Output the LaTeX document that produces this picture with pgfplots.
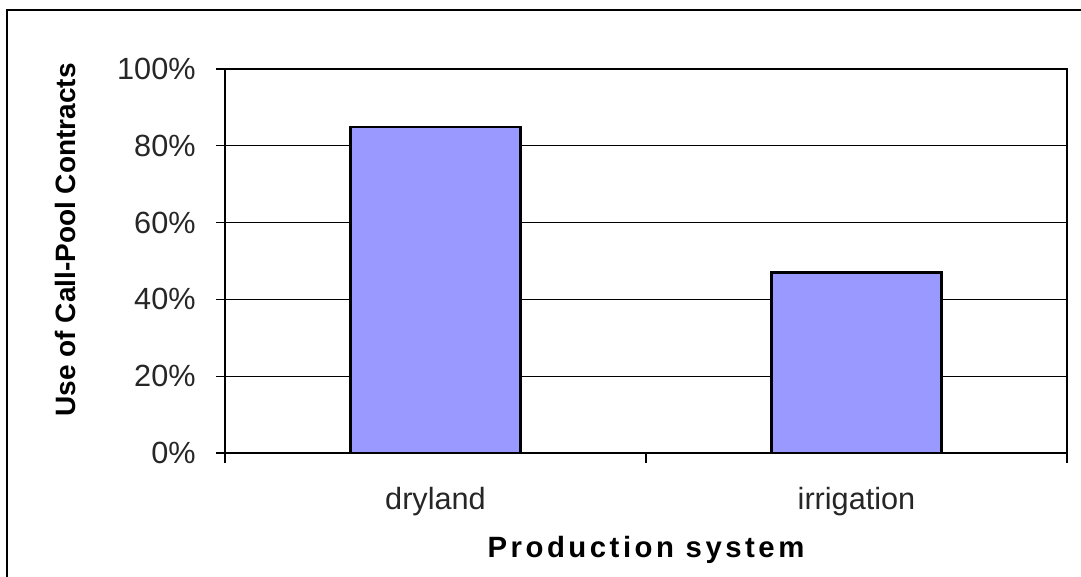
\documentclass[border=0pt]{standalone}
\usepackage{fontspec}
\setmainfont{Liberation Sans}
\usepackage{pgfplots}
\pgfplotsset{compat=1.18}
\definecolor{barblue}{HTML}{9999FF}

\begin{document}
\begin{tikzpicture}[x=0.75pt,y=0.75pt]
% picture in reference pixels (1081 x 576), y measured upwards
\useasboundingbox (0,0) rectangle (1081,576);
\draw[line width=1.1pt] (7,-20) -- (7,566) -- (1100,566);
\begin{axis}[
  at={(168.75pt,92.25pt)}, anchor=south west,
  width=631.5pt, height=288pt, scale only axis,
  xmin=-0.5, xmax=1.5, ymin=0, ymax=100,
  ybar, bar width=0.404,
  xtick={0,1}, xticklabels={dryland, irrigation},
  minor xtick={-0.5,0.5,1.5},
  major x tick style={draw=none},
  ytick={0,20,40,60,80,100},
  yticklabels={0\%,20\%,40\%,60\%,80\%,100\%},
  xtick pos=left, ytick pos=left,
  tick align=outside,
  major tick length=6.5pt, minor tick length=7.5pt,
  tick style={black, line width=0.8pt},
  ymajorgrids, grid style={black, line width=0.8pt},
  axis line style={line width=1.9pt},
  tick label style={font=\fontsize{23}{26}\selectfont, text=black!85},
  xticklabel style={yshift=-16pt},
  yticklabel style={xshift=-12pt},
  xlabel={Production system},
  xlabel style={font=\fontsize{22}{25}\selectfont\bfseries\addfontfeatures{LetterSpace=12},
    at={(axis description cs:0.5,0)}, anchor=center, yshift=-73pt},
  ylabel={Use of Call-Pool Contracts},
  ylabel style={font=\fontsize{21}{24}\selectfont\bfseries,
    at={(axis description cs:-0.19,0.555)}, anchor=center},
]
\addplot[fill=barblue, draw=black, line width=1.6pt] coordinates {(0,85) (1,47)};
\end{axis}
\end{tikzpicture}
\end{document}
